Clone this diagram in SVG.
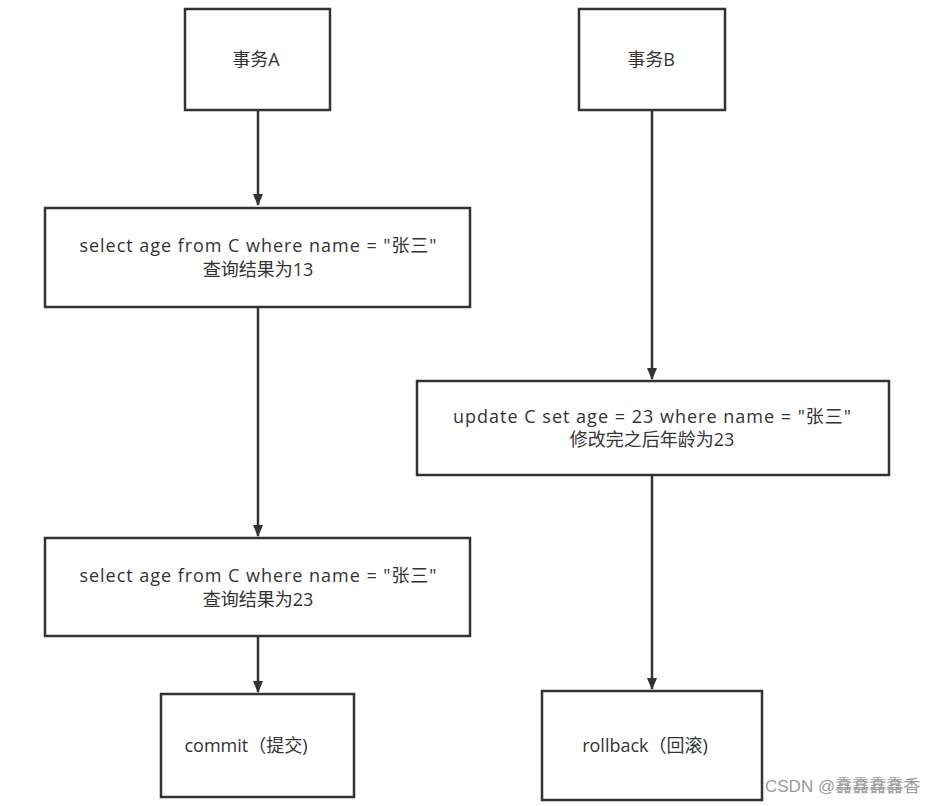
<svg xmlns="http://www.w3.org/2000/svg" width="951" height="806" viewBox="0 0 951 806">
<defs>
<style>
.box{fill:#fff;stroke:#333;stroke-width:2.5}
.t{font-family:"Open Sans","Noto Sans CJK SC",sans-serif;font-size:18px;fill:#333;text-anchor:middle}
.edge{stroke:#333;stroke-width:2.5;fill:none}
.wm{font-family:"Liberation Sans","Noto Sans CJK SC",sans-serif;font-size:17px;fill:#999}
</style>
<marker id="arr" markerWidth="12" markerHeight="14" refX="11" refY="5" orient="auto" markerUnits="userSpaceOnUse" viewBox="0 0 12 10">
<path d="M0,0 L12,5 L0,10 Z" fill="#333"/>
</marker>
</defs>
<rect width="951" height="806" fill="#fff"/>
<g id="connectors">
<line class="edge" x1="258" y1="110" x2="258" y2="205" marker-end="url(#arr)"/>
<line class="edge" x1="652" y1="110" x2="652" y2="379" marker-end="url(#arr)"/>
<line class="edge" x1="258" y1="307" x2="258" y2="536" marker-end="url(#arr)"/>
<line class="edge" x1="258" y1="636" x2="258" y2="692" marker-end="url(#arr)"/>
<line class="edge" x1="652" y1="475" x2="652" y2="689" marker-end="url(#arr)"/>
</g>
<g id="txA">
<rect class="box" x="185" y="9" width="145" height="101"/>
<text class="t" x="256" y="66">事务A</text>
</g>
<g id="txB">
<rect class="box" x="579" y="9" width="146" height="101"/>
<text class="t" x="651" y="66">事务B</text>
</g>
<g id="select1">
<rect class="box" x="45" y="208" width="425" height="99"/>
<text class="t" x="258" y="252" textLength="357" lengthAdjust="spacing">select age from C where name = "张三"</text>
<text class="t" x="258" y="276">查询结果为13</text>
</g>
<g id="update">
<rect class="box" x="417" y="381" width="472" height="94"/>
<text class="t" x="652" y="423" textLength="398" lengthAdjust="spacing">update C set age = 23 where name = "张三"</text>
<text class="t" x="652" y="446">修改完之后年龄为23</text>
</g>
<g id="select2">
<rect class="box" x="45" y="538" width="425" height="98"/>
<text class="t" x="258" y="582" textLength="357" lengthAdjust="spacing">select age from C where name = "张三"</text>
<text class="t" x="258" y="606">查询结果为23</text>
</g>
<g id="commit">
<rect class="box" x="161" y="694" width="193" height="103"/>
<text class="t" x="246" y="752">commit（提交)</text>
</g>
<g id="rollback">
<rect class="box" x="542" y="691" width="220" height="109"/>
<text class="t" x="645" y="752">rollback（回滚)</text>
</g>
<text class="wm" x="765" y="792">CSDN @馫馫馫馫香</text>
</svg>
